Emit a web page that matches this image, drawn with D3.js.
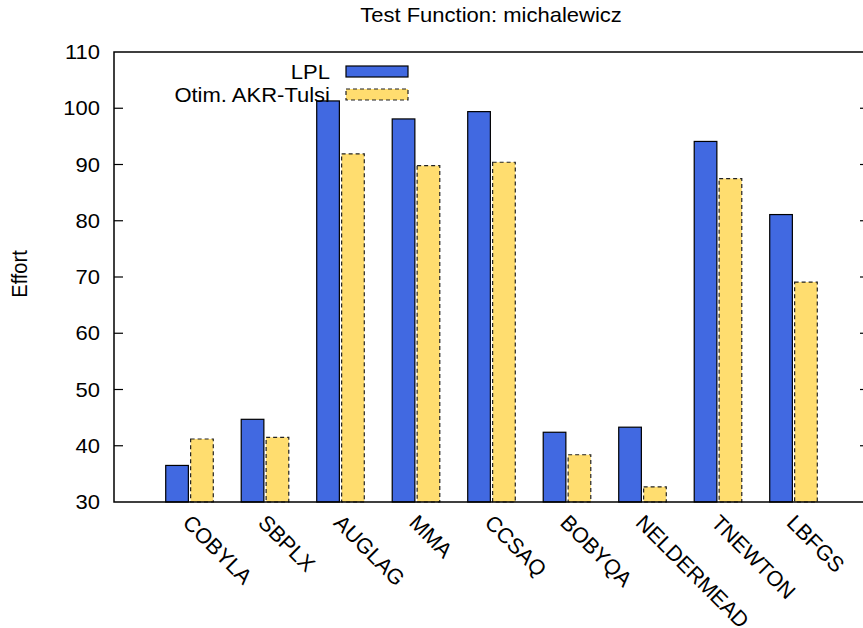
<!DOCTYPE html>
<html>
<head>
<meta charset="utf-8">
<script src="https://cdn.jsdelivr.net/npm/d3@7"></script>
<style>
  body { margin: 0; background: #fff; }
  text { font-family: "Liberation Sans", Arial, Helvetica, sans-serif; fill: #000; }
</style>
</head>
<body>
<div id="chart"></div>
<script>
// data
let categories = ["COBYLA", "SBPLX", "AUGLAG", "MMA", "CCSAQ", "BOBYQA", "NELDERMEAD", "TNEWTON", "LBFGS"];
let lplValues = [36.5, 44.7, 101.3, 98.1, 99.4, 42.4, 43.3, 94.1, 81.1];
let akrValues = [41.2, 41.5, 91.9, 89.8, 90.4, 38.4, 32.7, 87.5, 69.1];
let seriesNames = ["LPL", "Otim. AKR-Tulsi"];
let yTicks = [30, 40, 50, 60, 70, 80, 90, 100, 110];

let width = 863, height = 628;
let plotLeft = 114, plotRight = 869, plotTop = 52, plotBottom = 502;
let fontSize = 20;
let sx = 1.1; // text in the reference is a bit wider than tall

let svg = d3.select("#chart").append("svg")
    .attr("width", width).attr("height", height);

let x = d3.scaleLinear().domain([-1, 9]).range([plotLeft, plotRight]);
let y = d3.scaleLinear().domain([30, 110]).range([plotBottom, plotTop]);

let barW = 0.3, barGap = 0.03;
let colors = { lpl: "#4169e1", akr: "#ffdd6f" };

function label(g, txt, px, py, anchor, rot, size, stretch) {
    let s = stretch || sx;
    return g.append("text")
        .attr("transform", `translate(${px},${py}) scale(${s},1)` + (rot ? ` rotate(${rot})` : ""))
        .attr("text-anchor", anchor)
        .style("font-size", (size || fontSize) + "px")
        .text(txt);
}

// bars
let data = categories.map((c, i) => ({ name: c, i: i, lpl: lplValues[i], akr: akrValues[i] }));

svg.append("g").selectAll(".bar-lpl").data(data).join("rect")
    .attr("class", "bar-lpl")
    .attr("x", d => x(d.i - barGap / 2 - barW))
    .attr("width", x(barW) - x(0))
    .attr("y", d => y(d.lpl))
    .attr("height", d => y(30) - y(d.lpl))
    .attr("fill", colors.lpl)
    .attr("stroke", "#000").attr("stroke-width", 1.2);

svg.append("g").selectAll(".bar-akr").data(data).join("rect")
    .attr("class", "bar-akr")
    .attr("x", d => x(d.i + barGap / 2))
    .attr("width", x(barW) - x(0))
    .attr("y", d => y(d.akr))
    .attr("height", d => y(30) - y(d.akr))
    .attr("fill", colors.akr)
    .attr("stroke", "#222").attr("stroke-width", 1.2)
    .attr("stroke-dasharray", "4,3");

// border (left, bottom, top, right)
svg.append("path")
    .attr("d", `M${plotRight},${plotTop}H${plotLeft}V${plotBottom}H${plotRight}V${plotTop}`)
    .attr("fill", "none").attr("stroke", "#000").attr("stroke-width", 1.5);

// y ticks + mirrored ticks
let tickG = svg.append("g");
tickG.selectAll(".tl").data(yTicks.slice(1, -1)).join("line")
    .attr("x1", plotLeft).attr("x2", plotLeft + 9)
    .attr("y1", d => y(d)).attr("y2", d => y(d))
    .attr("stroke", "#000").attr("stroke-width", 1.2);
tickG.selectAll(".tr").data(yTicks.slice(1, -1)).join("line")
    .attr("x1", plotRight).attr("x2", plotRight - 9)
    .attr("y1", d => y(d)).attr("y2", d => y(d))
    .attr("stroke", "#000").attr("stroke-width", 1.2);

let yLab = svg.append("g");
yTicks.forEach(t => label(yLab, t, 100, y(t) + 7, "end"));

// x labels rotated
let xLab = svg.append("g");
categories.forEach((c, i) => label(xLab, c, x(i) - 8, 524, "start", 45, 21.5, 1.0));

// axis title + chart title
label(svg, "Effort", 27, 274, "middle", -90);
label(svg, "Test Function: michalewicz", 491, 22, "middle");

// legend
let legend = svg.append("g");
let legendRows = [
    { name: seriesNames[0], fill: colors.lpl, stroke: "#000", dash: null },
    { name: seriesNames[1], fill: colors.akr, stroke: "#222", dash: "4,3" }
];
legendRows.forEach((r, i) => {
    let ly = 72 + i * 23;
    label(legend, r.name, 330, ly + 7, "end");
    legend.append("rect")
        .attr("x", 346).attr("y", ly - 6)
        .attr("width", 62).attr("height", 11)
        .attr("fill", r.fill).attr("stroke", r.stroke).attr("stroke-width", 1.2)
        .attr("stroke-dasharray", r.dash);
});
</script>
</body>
</html>
